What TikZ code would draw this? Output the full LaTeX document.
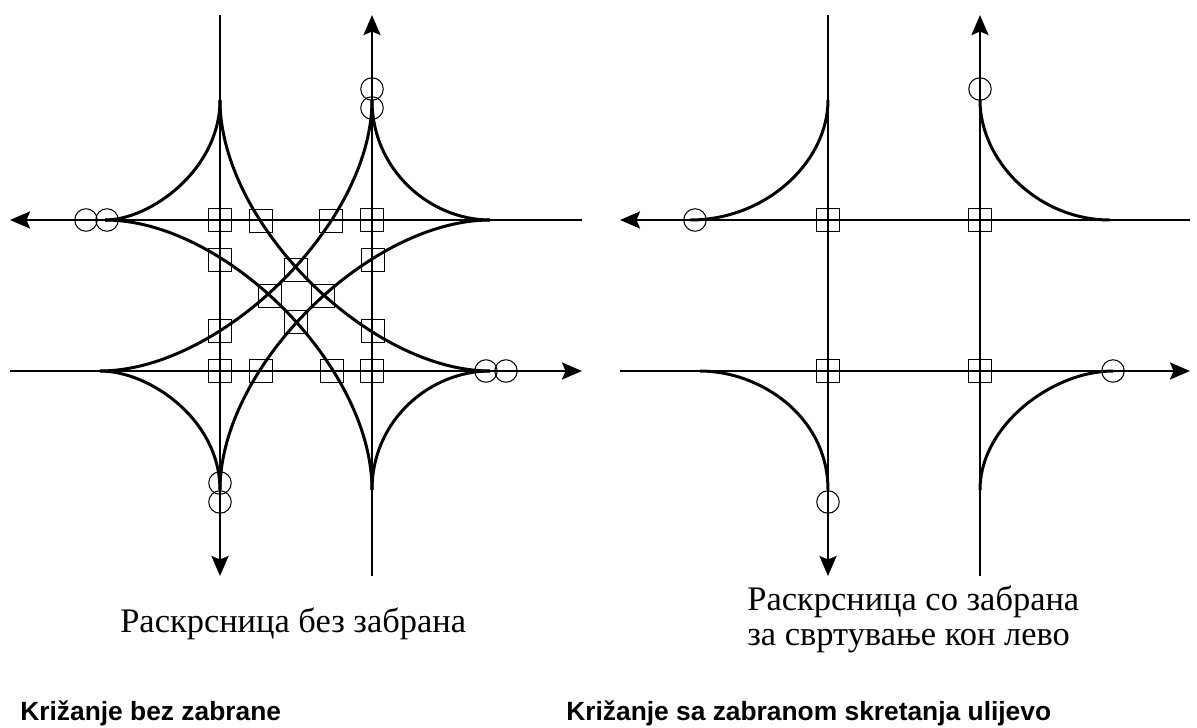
\documentclass[tikz,border=0pt]{standalone}
\usepackage{fontspec}
\setmainfont{Liberation Serif}
\setsansfont{Liberation Sans}
\usetikzlibrary{arrows.meta, positioning, calc}
\tikzset{
  >={Stealth[length=4mm, width=3.4mm, inset=0.7mm]},
  road/.style   ={line width=1.4pt},
  turn/.style   ={line width=1.7pt},
  crossing/.style={rectangle, draw, line width=0.7pt, minimum size=0.47cm, inner sep=0pt},
  merge/.style  ={circle, draw, line width=0.6pt, minimum size=0.45cm, inner sep=0pt},
  caption/.style={font=\fontsize{19.6}{19.8}\selectfont, align=left, anchor=base west, inner sep=0pt},
  native/.style ={font=\sffamily\bfseries\fontsize{15}{18}\selectfont, anchor=base west, inner sep=0pt},
}

\begin{document}
\begin{tikzpicture}[x=0.02cm, y=-0.02cm]
  \useasboundingbox (0,0) rectangle (1197,727);

  % --- left intersection: no prohibition ------------------------------------
  \coordinate (an) at (220,15);   \coordinate (as) at (220,576);
  \coordinate (bn) at (372,15);   \coordinate (bs) at (372,576);
  \coordinate (ce) at (582,220);  \coordinate (cw) at (10,220);
  \coordinate (dw) at (10,371);   \coordinate (de) at (582,371);
  \coordinate (ca) at (220,100);  \coordinate (cb) at (372,100);
  \coordinate (ab) at (220,490);  \coordinate (bb) at (372,490);
  \coordinate (lu) at (105,220);  \coordinate (ru) at (490,220);
  \coordinate (ld) at (100,371);  \coordinate (rd) at (490,371);

  \draw[road,->] (an) -- (as);
  \draw[road,->] (bs) -- (bn);
  \draw[road,->] (ce) -- (cw);
  \draw[road,->] (dw) -- (de);

  % short turns
  \draw[turn] (ca) .. controls +(0,70) and +(45,0) .. (lu);
  \draw[turn] (cb) .. controls +(0,70) and +(-60,0) .. (ru);
  \draw[turn] (rd) .. controls +(-60,0) and +(0,-70) .. (bb);
  \draw[turn] (ld) .. controls +(50,0) and +(0,-70) .. (ab);
  % long turns
  \draw[turn] (ca) .. controls +(0,124) and +(-120,0) .. (rd);
  \draw[turn] (cb) .. controls +(0,124) and +(120,0) .. (ld);
  \draw[turn] (lu) .. controls +(120,0) and +(0,-124) .. (bb);
  \draw[turn] (ru) .. controls +(-120,0) and +(0,-124) .. (ab);

  \foreach \name/\px/\py in {s1/220/220, s2/261/221, s3/331/221, s4/372/220,
                             s5/220/260, s6/373/260, s7/296/270,
                             s8/270/296, s9/323/296, s10/296/322,
                             s11/220/331, s12/373/331,
                             s13/220/371, s14/261/371, s15/332/371, s16/372/371}
    \node[crossing] (\name) at (\px,\py) {};

  \foreach \name/\px/\py in {m1/372/89, m2/372/108, m3/86/220, m4/107/220,
                             m5/486/371, m6/506/371, m7/220/483, m8/220/502}
    \node[merge] (\name) at (\px,\py) {};

  % --- right intersection: no left turn -------------------------------------
  \coordinate (en) at (828,15);   \coordinate (es) at (828,576);
  \coordinate (fn) at (980,15);   \coordinate (fs) at (980,576);
  \coordinate (ge) at (1190,220); \coordinate (gw) at (620,220);
  \coordinate (hw) at (620,371);  \coordinate (he) at (1190,371);
  \coordinate (ea) at (828,100);  \coordinate (fa) at (980,100);
  \coordinate (eb) at (828,490);  \coordinate (fb) at (980,490);
  \coordinate (lg) at (690,220);  \coordinate (rg) at (1110,220);
  \coordinate (lh) at (700,371);  \coordinate (rh) at (1113,371);

  \draw[road,->] (en) -- (es);
  \draw[road,->] (fs) -- (fn);
  \draw[road,->] (ge) -- (gw);
  \draw[road,->] (hw) -- (he);

  \draw[turn] (ea) .. controls +(0,61) and +(77,0) .. (lg);
  \draw[turn] (fa) .. controls +(0,61) and +(-72,0) .. (rg);
  \draw[turn] (rh) .. controls +(-60,0) and +(0,-65) .. (fb);
  \draw[turn] (lh) .. controls +(61,0) and +(0,-73) .. (eb);

  \foreach \name/\px/\py in {t1/828/220, t2/980/220, t3/828/371, t4/980/371}
    \node[crossing] (\name) at (\px,\py) {};

  \foreach \name/\px/\py in {n1/980/89, n2/695/220, n3/1113/371, n4/828/502}
    \node[merge] (\name) at (\px,\py) {};

  % --- captions --------------------------------------------------------------
  \node[caption] (capa) at (120,632) {Раскрсница без забрана};
  \node[caption] (capb) at (747,645) {Раскрсница со забрана\\за свртување кон лево};
  \node[native] (nata) at (20,720) {Križanje bez zabrane};
  \node[native] (natb) at (566,720) {Križanje sa zabranom skretanja ulijevo};
\end{tikzpicture}
\end{document}
